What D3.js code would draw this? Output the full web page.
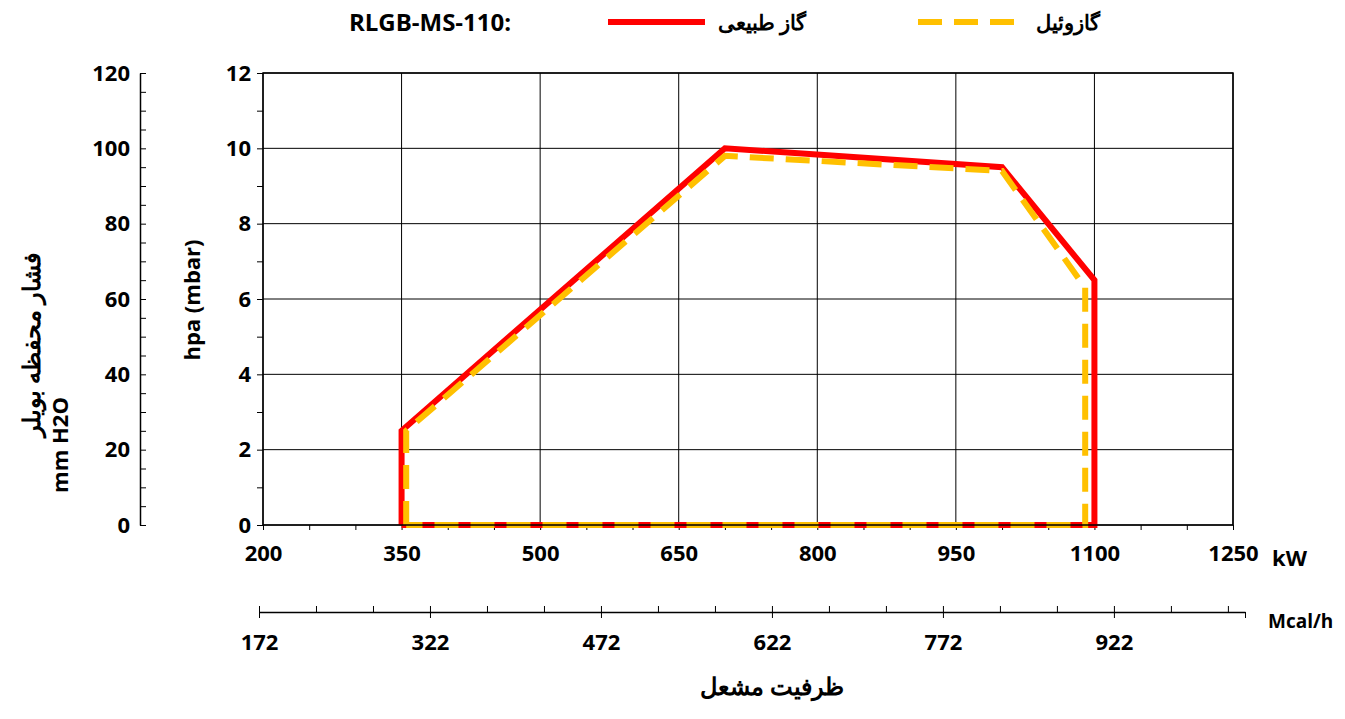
<!DOCTYPE html><html><head><meta charset="utf-8"><script src="https://cdn.jsdelivr.net/npm/d3@7"></script>
<style>body{margin:0;background:#fff}text{font-family:"Open Sans","Noto Sans",sans-serif;font-weight:bold;fill:#000}</style></head><body>
<svg id="c" width="1345" height="719"></svg>
<script>
const kwTicks=[200,350,500,650,800,950,1100,1250];
const hpaTicks=[0,2,4,6,8,10,12];
const mmTicks=[0,20,40,60,80,100,120];
const mcalTicks=[172,322,472,622,772,922];
const gasX=[350,350,700,1000,1100,1100,350];
const gasY=[0,2.5,10,9.5,6.5,0,0];
const oilX=[355,355,700,1000,1090,1090,355];
const oilY=[0,2.5,9.8,9.4,6.3,0,0];
const svg=d3.select("#c");
const x=d3.scaleLinear().domain([200,1250]).range([263,1233]);
const y=d3.scaleLinear().domain([0,12]).range([525,73]);
const ym=d3.scaleLinear().domain([0,120]).range([525,73]);
const xm=d3.scaleLinear().domain([172,1037]).range([259,1245]);
const fmt=d3.format("d");
const g=svg.append("g");
g.selectAll(".vg").data(kwTicks).join("line").attr("x1",d=>x(d)).attr("x2",d=>x(d)).attr("y1",73).attr("y2",525).attr("stroke","#000").attr("stroke-width",1);
g.selectAll(".hg").data(hpaTicks).join("line").attr("y1",d=>y(d)).attr("y2",d=>y(d)).attr("x1",263).attr("x2",1233).attr("stroke","#000").attr("stroke-width",1);
const ah=svg.append("g").attr("transform","translate(263,0)").call(d3.axisLeft(y).tickValues(hpaTicks).tickSize(0).tickPadding(12).tickFormat(fmt));
ah.select(".domain").remove();ah.selectAll("text").style("font-size","22px");
svg.append("g").attr("transform","translate(263,0)").call(d3.axisLeft(y).tickValues(d3.range(0,12.01,1)).tickSize(6).tickFormat("")).select(".domain").remove();
const am=svg.append("g").attr("transform","translate(140,0)").call(d3.axisLeft(ym).tickValues(mmTicks).tickSize(0).tickPadding(10).tickFormat(fmt));
am.select(".domain").attr("stroke-width",1.5);am.selectAll("text").style("font-size","22px");
svg.append("g").attr("transform","translate(140,0)").call(d3.axisRight(ym).tickValues(d3.range(0,120.1,5)).tickSize(6).tickFormat("")).select(".domain").remove();
const ak=svg.append("g").attr("transform","translate(0,525)").call(d3.axisBottom(x).tickValues(kwTicks).tickSize(0).tickPadding(20).tickFormat(fmt));
ak.select(".domain").remove();ak.selectAll("text").style("font-size","22px");
svg.append("g").attr("transform","translate(0,525)").call(d3.axisBottom(x).tickValues(d3.range(200,1251,50)).tickSize(5).tickFormat("")).select(".domain").remove();
svg.append("text").attr("x",1272).attr("y",566).style("font-size","22px").text("kW");
const ac=svg.append("g").attr("transform","translate(0,612)").call(d3.axisBottom(xm).tickValues(mcalTicks).tickSize(0).tickPadding(22).tickFormat(fmt));
ac.select(".domain").attr("stroke-width",1.5);ac.selectAll("text").style("font-size","22px");
svg.append("g").attr("transform","translate(0,612)").call(d3.axisTop(xm).tickValues(d3.range(172,1037,50)).tickSize(6).tickFormat("")).select(".domain").remove();
svg.append("g").attr("transform","translate(0,612)").call(d3.axisBottom(xm).tickValues([...mcalTicks,1037]).tickSize(6).tickFormat("")).select(".domain").remove();
svg.append("text").attr("x",1268).attr("y",628).style("font-size","19px").text("Mcal/h");
svg.append("text").attr("x",772).attr("y",695).attr("text-anchor","middle").style("font-size","24px").text("ظرفیت مشعل");
svg.append("text").attr("transform","translate(200,300) rotate(-90)").attr("text-anchor","middle").style("font-size","22px").text("hpa (mbar)");
svg.append("text").attr("transform","translate(40,345) rotate(-90)").attr("text-anchor","middle").style("font-size","24px").text("فشار محفظه بویلر");
svg.append("text").attr("transform","translate(68,445) rotate(-90)").attr("text-anchor","middle").style("font-size","22px").text("mm H2O");
const line=d3.line().x(d=>x(d[0])).y(d=>y(d[1]));
svg.append("path").attr("d",line(gasX.map((v,i)=>[v,gasY[i]]))).attr("fill","none").attr("stroke","#ff0000").attr("stroke-width",6);
svg.append("path").attr("d",line(oilX.map((v,i)=>[v,oilY[i]]))).attr("fill","none").attr("stroke","#ffc000").attr("stroke-width",6).attr("stroke-dasharray","24,12");
svg.append("rect").attr("x",263).attr("y",73).attr("width",970).attr("height",452).attr("fill","none").attr("stroke","#000").attr("stroke-width",1.5);
svg.append("text").attr("x",430).attr("y",31).attr("text-anchor","middle").style("font-size","24px").text("RLGB-MS-110:");
svg.append("line").attr("x1",608).attr("x2",705).attr("y1",22).attr("y2",22).attr("stroke","#ff0000").attr("stroke-width",6);
svg.append("text").attr("x",762).attr("y",30).attr("text-anchor","middle").style("font-size","21px").text("گاز طبیعی");
svg.append("line").attr("x1",918).attr("x2",1015).attr("y1",22).attr("y2",22).attr("stroke","#ffc000").attr("stroke-width",6).attr("stroke-dasharray","24,12");
svg.append("text").attr("x",1068).attr("y",30).attr("text-anchor","middle").style("font-size","21px").text("گازوئیل");
</script></body></html>
